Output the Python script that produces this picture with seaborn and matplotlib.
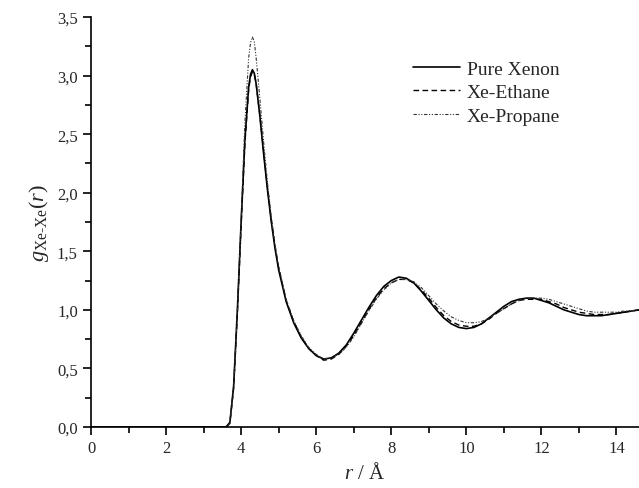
import numpy as np
import pandas as pd
import matplotlib
matplotlib.use("Agg")
import matplotlib.pyplot as plt
import seaborn as sns
from matplotlib.ticker import MultipleLocator, FuncFormatter

# r grid (Angstrom) shared by the three curves
r = [0.0, 3.5, 3.6, 3.7, 3.8, 3.9, 4.0, 4.1, 4.2, 4.25, 4.3, 4.35, 4.4, 4.5, 4.6, 4.7, 4.8, 4.9,
     5.0, 5.2, 5.4, 5.6, 5.8, 6.0, 6.2, 6.4, 6.6, 6.8, 7.0, 7.2, 7.4, 7.6, 7.8,
     8.0, 8.2, 8.4, 8.6, 8.8, 9.0, 9.2, 9.4, 9.6, 9.8, 10.0, 10.2, 10.4, 10.6, 10.8,
     11.0, 11.2, 11.4, 11.6, 11.8, 12.0, 12.2, 12.4, 12.6, 12.8, 13.0, 13.2, 13.4,
     13.6, 13.8, 14.0, 14.2, 14.4, 14.6]

g_xenon = [0.0, 0.0, 0.0, 0.04, 0.35, 1.0, 1.75, 2.45, 2.9, 3.01, 3.05, 3.02, 2.93, 2.65, 2.33, 2.03, 1.76, 1.53,
           1.34, 1.07, 0.89, 0.76, 0.67, 0.61, 0.58, 0.59, 0.63, 0.70, 0.80, 0.91, 1.02, 1.12, 1.20,
           1.25, 1.28, 1.27, 1.23, 1.16, 1.08, 1.00, 0.93, 0.88, 0.85, 0.84, 0.85, 0.88, 0.93, 0.98,
           1.03, 1.07, 1.09, 1.10, 1.10, 1.08, 1.06, 1.03, 1.00, 0.98, 0.96, 0.95, 0.95,
           0.95, 0.96, 0.97, 0.98, 0.99, 1.00]

g_ethane = [0.0, 0.0, 0.0, 0.03, 0.33, 0.97, 1.72, 2.42, 2.88, 2.99, 3.03, 3.01, 2.93, 2.66, 2.35, 2.05, 1.78, 1.55,
            1.36, 1.08, 0.90, 0.77, 0.67, 0.61, 0.57, 0.58, 0.62, 0.69, 0.78, 0.89, 1.00, 1.10, 1.18,
            1.23, 1.26, 1.26, 1.23, 1.17, 1.10, 1.02, 0.95, 0.90, 0.87, 0.86, 0.86, 0.88, 0.92, 0.97,
            1.01, 1.05, 1.08, 1.09, 1.09, 1.09, 1.07, 1.05, 1.02, 1.00, 0.98, 0.97, 0.96,
            0.96, 0.96, 0.97, 0.98, 0.99, 1.00]

g_propane = [0.0, 0.0, 0.0, 0.03, 0.33, 0.98, 1.78, 2.6, 3.15, 3.28, 3.33, 3.29, 3.15, 2.8, 2.43, 2.09, 1.80, 1.56,
             1.37, 1.09, 0.91, 0.78, 0.68, 0.62, 0.58, 0.59, 0.62, 0.68, 0.77, 0.88, 0.99, 1.09, 1.17,
             1.23, 1.26, 1.26, 1.24, 1.19, 1.12, 1.05, 0.99, 0.94, 0.91, 0.89, 0.89, 0.90, 0.93, 0.97,
             1.01, 1.05, 1.08, 1.10, 1.10, 1.10, 1.09, 1.07, 1.05, 1.03, 1.01, 0.99, 0.98,
             0.98, 0.98, 0.98, 0.99, 0.99, 1.00]

sns.set_theme(style="ticks")
plt.rcParams['font.family'] = ['Liberation Serif', 'DejaVu Serif']
plt.rcParams['mathtext.fontset'] = 'custom'
plt.rcParams['mathtext.rm'] = 'Liberation Serif'
plt.rcParams['mathtext.it'] = 'Liberation Serif:italic'

fig = plt.figure(figsize=(6.39, 4.89), dpi=100)
ax = fig.add_axes([91 / 639, 61 / 489, 548 / 639, 410 / 489])

sns.lineplot(x=r, y=g_xenon, ax=ax, color="black", lw=1.2, label="Pure Xenon")
sns.lineplot(x=r, y=g_ethane, ax=ax, color="black", lw=1.0, linestyle=(0, (4, 2.5)), label="Xe-Ethane")
sns.lineplot(x=r, y=g_propane, ax=ax, color="#333333", lw=0.8,
             linestyle=(0, (3, 1.5, 1, 1.5, 1, 1.5)), label="Xe-Propane")

ax.set_xlim(0, 14.6)
ax.set_ylim(0, 3.5)
ax.xaxis.set_major_locator(MultipleLocator(2))
ax.xaxis.set_minor_locator(MultipleLocator(1))
ax.yaxis.set_major_locator(MultipleLocator(0.5))
ax.yaxis.set_minor_locator(MultipleLocator(0.25))
ax.yaxis.set_major_formatter(FuncFormatter(lambda v, p: f"{v:.1f}".replace(".", ",")))
ax.tick_params(which="major", direction="out", length=6, width=1.2, labelsize=12, color="black")
ax.tick_params(which="minor", direction="out", length=4, width=1.2, color="black")
for s in ["top", "right"]:
    ax.spines[s].set_visible(False)
for s in ["left", "bottom"]:
    ax.spines[s].set_linewidth(1.2)
    ax.spines[s].set_color("black")

ax.set_xlabel("$r$ / Å", fontsize=15)
ax.set_ylabel(r"$g_{\mathrm{Xe\text{-}Xe}}(r)$", fontsize=16)

leg = ax.legend(loc="upper left", bbox_to_anchor=(0.588, 0.895), frameon=False, fontsize=14,
                handlelength=2.4, handletextpad=0.35, labelspacing=0.3,
                borderpad=0, borderaxespad=0)

fig.savefig("out.png", dpi=100)
